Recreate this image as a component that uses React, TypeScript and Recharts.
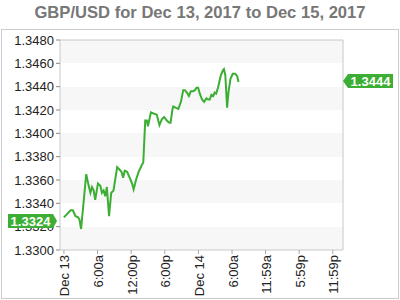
import { LineChart, Line, XAxis, YAxis, CartesianGrid, ReferenceLine } from 'recharts';

// hours since Dec 13 00:00
const hours = [
  0, 1.19, 1.59, 2.07, 2.53, 2.78, 3.06, 3.98, 4.42, 4.73, 5.01, 5.31, 5.58, 6.07, 6.5, 6.78, 7.08, 7.38, 7.66,
  8.05, 8.44, 8.85, 9.5, 9.91, 10.27, 10.57, 10.85, 11.27, 11.73, 12.16, 12.44, 12.92, 13.33, 13.93, 14.16,
  14.51, 14.81, 14.99, 15.52, 15.98, 16.58, 17.04, 17.47, 17.88, 18.35, 18.81, 19.03, 19.35, 19.52, 19.91,
  20.41, 20.88, 21.29, 21.59, 22.07, 22.3, 22.65, 23.06, 23.36, 23.66, 23.95, 24.25, 24.65, 25.01, 25.43,
  25.75, 26.02, 26.32, 26.64, 26.9, 27.17, 27.49, 27.96, 28.37, 28.55, 28.8, 29.12, 29.38, 29.73, 30.14,
  30.57, 30.92, 31.15,
];

const prices = [
  1.3328, 1.3334, 1.3334, 1.3329, 1.3328, 1.3326, 1.3318, 1.3365, 1.3355, 1.3349, 1.3354, 1.3351, 1.3343,
  1.3357, 1.3355, 1.3349, 1.3351, 1.3346, 1.3354, 1.3329, 1.3349, 1.3351, 1.3371, 1.3369, 1.3367, 1.3362,
  1.3368, 1.3367, 1.3362, 1.3357, 1.3352, 1.3361, 1.3367, 1.3373, 1.3375, 1.3411, 1.3411, 1.3406, 1.3418,
  1.3417, 1.3416, 1.3407, 1.3412, 1.3414, 1.3411, 1.3409, 1.3409, 1.342, 1.3423, 1.3422, 1.3421, 1.3427,
  1.3437, 1.3437, 1.3434, 1.3432, 1.3436, 1.3436, 1.3437, 1.3439, 1.3439, 1.3434, 1.3429, 1.3427, 1.343,
  1.3429, 1.3429, 1.3433, 1.3432, 1.3435, 1.3434, 1.3439, 1.3449, 1.3454, 1.3455, 1.345, 1.3422, 1.3436,
  1.3447, 1.3451, 1.3451, 1.3449, 1.3444,
];

const xTicks = [0, 6, 12, 18, 24, 30, 35.98, 41.98, 47.98];
const xLabels = ['Dec 13', '6:00a', '12:00p', '6:00p', 'Dec 14', '6:00a', '11:59a', '5:59p', '11:59p'];
const yTicks = [1.33, 1.332, 1.334, 1.336, 1.338, 1.34, 1.342, 1.344, 1.346, 1.348];

const openPrice = 1.3324;
const lastPrice = 1.3444;

const GREEN = '#3cae33';
const FONT = '"Liberation Sans", Arial, sans-serif';
const X_DOMAIN = [-0.7, 49.8];
const Y_DOMAIN = [1.33, 1.348];
const MARGIN = { top: 40, right: 5, bottom: 0, left: 0 };

const data = hours.map((h, i) => ({ h, p: prices[i] }));

function XTick({ x, y, payload }: any) {
  const i = xTicks.indexOf(payload.value);
  return (
    <text
      x={x + 1}
      y={y}
      dy="0.35em"
      transform={`rotate(-90 ${x + 1} ${y})`}
      textAnchor="end"
      fontSize={13}
      fill="#222"
      fontFamily={FONT}
    >
      {xLabels[i]}
    </text>
  );
}

function PriceTag({ viewBox, value, side }: any) {
  const cy = viewBox.y - 1;
  if (side === 'left') {
    const tip = viewBox.x - 3;
    const r = tip - 4;
    const l = r - 45;
    return (
      <g>
        <polygon points={`${l},${cy - 7} ${r},${cy - 7} ${tip},${cy} ${r},${cy + 7} ${l},${cy + 7}`} fill={GREEN} />
        <text x={(l + r) / 2} y={cy} dy="0.36em" textAnchor="middle" fill="#fff" fontSize={13} fontWeight="bold" fontFamily={FONT}>
          {value.toFixed(4)}
        </text>
      </g>
    );
  }
  const tip = viewBox.x + viewBox.width;
  const l = tip + 5;
  const r = l + 45;
  return (
    <g>
      <polygon points={`${tip},${cy} ${l},${cy - 7} ${r},${cy - 7} ${r},${cy + 7} ${l},${cy + 7}`} fill={GREEN} />
      <text x={(l + r) / 2} y={cy} dy="0.36em" textAnchor="middle" fill="#fff" fontSize={13} fontWeight="bold" fontFamily={FONT}>
        {value.toFixed(4)}
      </text>
    </g>
  );
}

export default function App() {
  return (
    <div style={{ position: 'absolute', left: 0, top: 0, width: 400, height: 300, background: '#fff', fontFamily: FONT }}>
      <div
        style={{
          position: 'absolute',
          left: 0,
          top: 3,
          width: 400,
          textAlign: 'center',
          fontSize: 16.6,
          fontWeight: 'bold',
          color: '#777',
        }}
      >
        GBP/USD for Dec 13, 2017 to Dec 15, 2017
      </div>
      <div
        style={{
          position: 'absolute',
          left: 1,
          top: 29,
          width: 396,
          height: 268,
          border: '1px solid #cccccc',
        }}
      />
      <div style={{ position: 'absolute', left: 268, top: 228, fontSize: 15, color: '#d2d2d2', letterSpacing: 0.5 }}>
        ◣ OANDA
      </div>
      <div style={{ position: 'absolute', left: 0, top: 0 }}>
        <LineChart width={400} height={300} data={data} margin={MARGIN}>
          <CartesianGrid
            vertical={false}
            stroke="rgba(0,0,0,0)"
            horizontalFill={['#f7f7f7', 'rgba(255,255,255,0)']}
            yAxisId="left"
          />
          <XAxis
            dataKey="h"
            type="number"
            domain={X_DOMAIN}
            ticks={xTicks}
            interval={0}
            height={50}
            tick={<XTick />}
            tickSize={4}
            tickMargin={1}
            stroke="#c8c8c8"
            tickLine={{ stroke: '#aaa' }}
          />
          <YAxis
            yAxisId="left"
            domain={Y_DOMAIN}
            ticks={yTicks}
            interval={0}
            width={60}
            tickSize={4}
            tickMargin={2}
            stroke="#c8c8c8"
            tickLine={{ stroke: '#888' }}
            tick={{ fontSize: 13, fill: '#222', fontFamily: FONT }}
            tickFormatter={(v: number) => v.toFixed(4)}
          />
          <YAxis
            yAxisId="right"
            orientation="right"
            domain={Y_DOMAIN}
            ticks={yTicks}
            interval={0}
            width={52}
            tickSize={3}
            tickMargin={1}
            stroke="#c8c8c8"
            tickLine={{ stroke: '#888' }}
            tick={{ fontSize: 13, fill: '#222', fontFamily: FONT, textAnchor: 'start' }}
            tickFormatter={(v: number) => v.toFixed(4)}
          />
          <ReferenceLine yAxisId="left" y={1.348} stroke="#c8c8c8" />
          <Line
            yAxisId="left"
            dataKey="p"
            type="linear"
            stroke={GREEN}
            strokeWidth={2}
            dot={false}
            isAnimationActive={false}
          />
        </LineChart>
      </div>
      {/* second layer, same geometry, so the price tags sit above the axis labels */}
      <div style={{ position: 'absolute', left: 0, top: 0, pointerEvents: 'none' }}>
        <LineChart width={400} height={300} data={data} margin={MARGIN}>
          <XAxis dataKey="h" type="number" domain={X_DOMAIN} height={50} tick={false} axisLine={false} tickLine={false} />
          <YAxis yAxisId="left" domain={Y_DOMAIN} width={60} tick={false} axisLine={false} tickLine={false} />
          <YAxis yAxisId="right" orientation="right" domain={Y_DOMAIN} width={52} tick={false} axisLine={false} tickLine={false} />
          <Line yAxisId="left" dataKey="p" stroke="none" dot={false} isAnimationActive={false} />
          <ReferenceLine
            yAxisId="left"
            y={openPrice}
            stroke="none"
            label={(props: any) => <PriceTag {...props} value={openPrice} side="left" />}
          />
          <ReferenceLine
            yAxisId="left"
            y={lastPrice}
            stroke="none"
            label={(props: any) => <PriceTag {...props} value={lastPrice} side="right" />}
          />
        </LineChart>
      </div>
    </div>
  );
}
